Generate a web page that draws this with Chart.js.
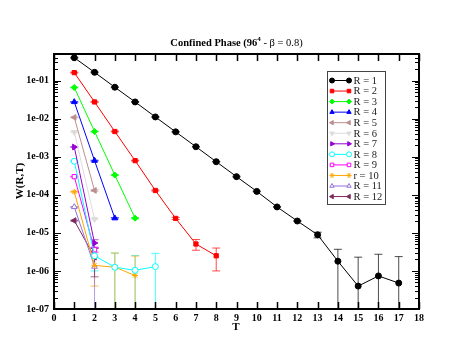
<!DOCTYPE html>
<html>
<head>
<meta charset="utf-8">
<script src="https://cdn.jsdelivr.net/npm/chart.js@4/dist/chart.umd.min.js"></script>
<style>
html,body{margin:0;padding:0;background:#fff;}
canvas{display:block;}
</style>
</head>
<body>
<canvas id="c" width="471" height="364"></canvas>
<script>
// ---- data ----
const T = [1,2,3,4,5,6,7,8,9,10,11,12,13,14,15,16,17];
const seriesNames = ['R = 1','R = 2','R = 3','R = 4','R = 5','R = 6','R = 7','R = 8','R = 9','r = 10','R = 11','R = 12'];
const r1  = [0.40,0.165,0.067,0.0275,0.0111,0.0045,0.00183,7.4e-4,3.0e-4,1.23e-4,4.8e-5,2.05e-5,8.9e-6,1.8e-6,4.0e-7,7.4e-7,4.8e-7];
const r1Err = [0.01,0.004,0.0015,0.0006,0.00025,0.0001,0.00004,0.000016,0.000007,0.0000027,0.0000011,0.0000006,0.0000015,0.0000019,0.0000019,0.000002,0.0000019];
const r2  = [0.162,0.0275,0.0046,7.9e-4,1.3e-4,2.4e-5,5.1e-6,2.5e-6];
const r2Err = [0.004,0.0006,0.0001,0.00002,0.000004,0.0000015,0.0000016,0.0000015];
const r3  = [0.066,0.0046,3.3e-4,2.43e-5];
const r3Err = [0.0015,0.0001,0.00001,0.000001];
const r4  = [0.0275,7.9e-4,2.43e-5];
const r4Err = [0.0006,0.00002,0.000001];
const r5  = [0.0108,1.3e-4];
const r5Err = [0.00025,0.000006];
const r6  = [0.0044,2.3e-5];
const r6Err = [0.0001,0.000001];
const r7  = [1.8e-3,5.4e-6];
const r7Err = [0.00004,0.0000012];
const r8  = [7.6e-4,2.5e-6,1.25e-6,1.04e-6,1.3e-6];
const r8Err = [0.00002,0.0000015,0.0000017,0.0000015,0.0000016];
const r9  = [3.0e-4,3.6e-6];
const r9Err = [0.000007,0.0000005];
const r10 = [1.2e-4,1.4e-6,1.25e-6,7.6e-7];
const r10Err = [0.000003,0.000001,0.0000017,0.0000017];
const r11 = [4.8e-5,1.3e-6];
const r11Err = [0.0000012,0.0000026];
const r12 = [2.1e-5,2.3e-6];
const r12Err = [0.0000006,0.0000016];
const xTickValues = [0,1,2,3,4,5,6,7,8,9,10,11,12,13,14,15,16,17,18];
const yTickValues = [1e-7,1e-6,1e-5,1e-4,1e-3,1e-2,1e-1];
const yTickLabels = ['1e-07','1e-06','1e-05','1e-04','1e-03','1e-02','1e-01'];

const allValues = [r1,r2,r3,r4,r5,r6,r7,r8,r9,r10,r11,r12];
const allErrors = [r1Err,r2Err,r3Err,r4Err,r5Err,r6Err,r7Err,r8Err,r9Err,r10Err,r11Err,r12Err];

// ---- styles ----
const colors = ['#000000','#ff0000','#00ff00','#0000ff','#bc8f8f','#dcdcdc','#9400d3','#00ffff','#ff00ff','#ffa500','#9370db','#7d2b5e'];
const styles = ['circle','rect','rectRot','triangle','triangle','triangle','triangle','circle','rect','star','triangle','triangle'];
const rotations = [0,0,0,0,-90,180,90,0,0,0,0,-90];
const openMarker = [false,false,false,false,false,false,false,true,true,false,true,false];
const FONT = "'Liberation Serif', 'Times New Roman', serif";

const datasets = allValues.map((vals, i) => ({
  label: seriesNames[i],
  data: vals.map((v, j) => ({x: T[j], y: v})),
  errors: allErrors[i],
  borderColor: colors[i],
  backgroundColor: colors[i],
  borderWidth: 1,
  pointStyle: styles[i],
  pointRotation: rotations[i],
  pointRadius: styles[i] === 'triangle' ? 3.3 : 3,
  pointBackgroundColor: openMarker[i] ? '#ffffff' : colors[i],
  pointBorderColor: colors[i],
  pointBorderWidth: 1,
  tension: 0,
  fill: false,
  clip: false
}));

function hexA(hex, a) {
  const n = parseInt(hex.slice(1), 16);
  return `rgba(${(n>>16)&255},${(n>>8)&255},${n&255},${a})`;
}

const errorBars = {
  id: 'errorBars',
  beforeDatasetsDraw(chart) {
    const ctx = chart.ctx, xs = chart.scales.x, ys = chart.scales.y, ca = chart.chartArea;
    ctx.save();
    chart.data.datasets.forEach((ds) => {
      ctx.strokeStyle = hexA(ds.borderColor, 0.7);
      ctx.lineWidth = 1;
      ds.data.forEach((p, j) => {
        const e = ds.errors[j];
        const px = xs.getPixelForValue(p.x);
        const top = ys.getPixelForValue(p.y + e);
        const lo = p.y - e;
        let bot = lo > 0 ? ys.getPixelForValue(lo) : ca.bottom;
        if (bot > ca.bottom) bot = ca.bottom;
        ctx.beginPath();
        ctx.moveTo(px, top); ctx.lineTo(px, bot);
        ctx.moveTo(px - 4, top); ctx.lineTo(px + 4, top);
        if (lo > 0 && bot < ca.bottom) { ctx.moveTo(px - 4, bot); ctx.lineTo(px + 4, bot); }
        ctx.stroke();
      });
    });
    ctx.restore();
  }
};

function drawMarker(ctx, i, x, y) {
  ctx.save();
  ctx.fillStyle = openMarker[i] ? '#ffffff' : colors[i];
  ctx.strokeStyle = colors[i];
  ctx.lineWidth = 1;
  if (Chart.helpers && Chart.helpers.drawPoint) {
    Chart.helpers.drawPoint(ctx, {pointStyle: styles[i], rotation: rotations[i], radius: 2.5, borderWidth: 1}, x, y);
  } else {
    ctx.beginPath(); ctx.arc(x, y, 2.5, 0, Math.PI*2); ctx.fill(); ctx.stroke();
  }
  ctx.restore();
}

const decor = {
  id: 'decor',
  afterDraw(chart) {
    const ctx = chart.ctx, xs = chart.scales.x, ys = chart.scales.y, ca = chart.chartArea;
    ctx.save();
    // ticks
    ctx.strokeStyle = '#000';
    ctx.lineWidth = 1.5;
    ctx.beginPath();
    xTickValues.forEach(v => {
      const px = Math.round(xs.getPixelForValue(v)) + 0.5;
      ctx.moveTo(px, ca.bottom); ctx.lineTo(px, ca.bottom - 7);
      ctx.moveTo(px, ca.top); ctx.lineTo(px, ca.top + 7);
    });
    ctx.stroke();
    ctx.lineWidth = 1;
    ctx.beginPath();
    for (let e = -7; e <= -1; e++) {
      for (let m = 1; m <= 9; m++) {
        const v = m * Math.pow(10, e);
        if (v < 1e-7 || v > 0.5) continue;
        const py = Math.round(ys.getPixelForValue(v)) + 0.5;
        const len = m === 1 ? 7 : 4;
        ctx.moveTo(ca.left, py); ctx.lineTo(ca.left + len, py);
        ctx.moveTo(ca.right, py); ctx.lineTo(ca.right - len, py);
      }
    }
    ctx.stroke();
    // frame
    ctx.lineWidth = 2;
    ctx.strokeRect(ca.left, ca.top, ca.right - ca.left, ca.bottom - ca.top);

    // title
    ctx.fillStyle = '#000';
    ctx.textBaseline = 'alphabetic';
    const boldF = 'bold 10.5px ' + FONT, regF = '10.5px ' + FONT, supF = 'bold 7px ' + FONT;
    const p1 = 'Confined Phase (96', p2 = '4', p3 = ' - β = 0.8)';
    ctx.font = boldF; const w1 = ctx.measureText(p1).width;
    ctx.font = supF; const w2 = ctx.measureText(p2).width;
    ctx.font = regF; const w3 = ctx.measureText(p3).width;
    let tx = 236.5 - (w1 + w2 + w3) / 2;
    const ty = 45.5;
    ctx.font = boldF; ctx.textAlign = 'left'; ctx.fillText(p1, tx, ty); tx += w1;
    ctx.font = supF; ctx.fillText(p2, tx, ty - 5); tx += w2;
    ctx.font = regF; ctx.fillText(p3, tx, ty);

    // axis titles
    ctx.font = 'bold 11px ' + FONT;
    ctx.textAlign = 'center';
    ctx.textBaseline = 'middle';
    ctx.fillText('T', 236, 327);
    ctx.save();
    ctx.translate(20, 181);
    ctx.rotate(-Math.PI / 2);
    ctx.fillText('W(R,T)', 0, 0);
    ctx.restore();

    // legend
    const lx = 327.5, ly = 71.5, lw = 58, lh = 133;
    ctx.fillStyle = '#fff';
    ctx.fillRect(lx, ly, lw, lh);
    ctx.strokeStyle = '#444';
    ctx.lineWidth = 1;
    ctx.strokeRect(lx, ly, lw, lh);
    ctx.font = '10.5px ' + FONT;
    ctx.textAlign = 'left';
    ctx.textBaseline = 'middle';
    seriesNames.forEach((name, i) => {
      const yy = 80.5 + i * 10.55;
      ctx.strokeStyle = colors[i];
      ctx.lineWidth = 1;
      ctx.beginPath(); ctx.moveTo(332, yy); ctx.lineTo(349, yy); ctx.stroke();
      drawMarker(ctx, i, 332, yy);
      drawMarker(ctx, i, 349, yy);
      ctx.fillStyle = '#222';
      ctx.fillText(name, 353.5, yy + 0.5);
    });
    ctx.restore();
  }
};

new Chart(document.getElementById('c'), {
  type: 'line',
  data: { datasets },
  options: {
    responsive: false,
    animation: false,
    devicePixelRatio: 1,
    layout: { padding: { top: 54, right: 52, left: 0, bottom: 0 } },
    plugins: { legend: { display: false }, title: { display: false }, tooltip: { enabled: false } },
    scales: {
      x: {
        type: 'linear', min: 0, max: 18,
        grid: { display: false, drawTicks: false }, border: { display: false },
        afterBuildTicks(s) { s.ticks = xTickValues.map(v => ({ value: v })); },
        ticks: { autoSkip: false, maxRotation: 0, padding: 3, color: '#000', font: { family: FONT, size: 10, weight: 'bold' },
                 callback: (v) => String(v) },
        afterFit(s) { s.height = 55; }
      },
      y: {
        type: 'logarithmic', min: 1e-7, max: 0.5,
        grid: { display: false, drawTicks: false }, border: { display: false },
        afterBuildTicks(s) { s.ticks = yTickValues.map(v => ({ value: v, major: true })); },
        ticks: { autoSkip: false, padding: 5, color: '#000', font: { family: FONT, size: 10, weight: 'bold' },
                 callback: (v, i) => yTickLabels[i] },
        afterFit(s) { s.width = 54; }
      }
    }
  },
  plugins: [errorBars, decor]
});
</script>
</body>
</html>
